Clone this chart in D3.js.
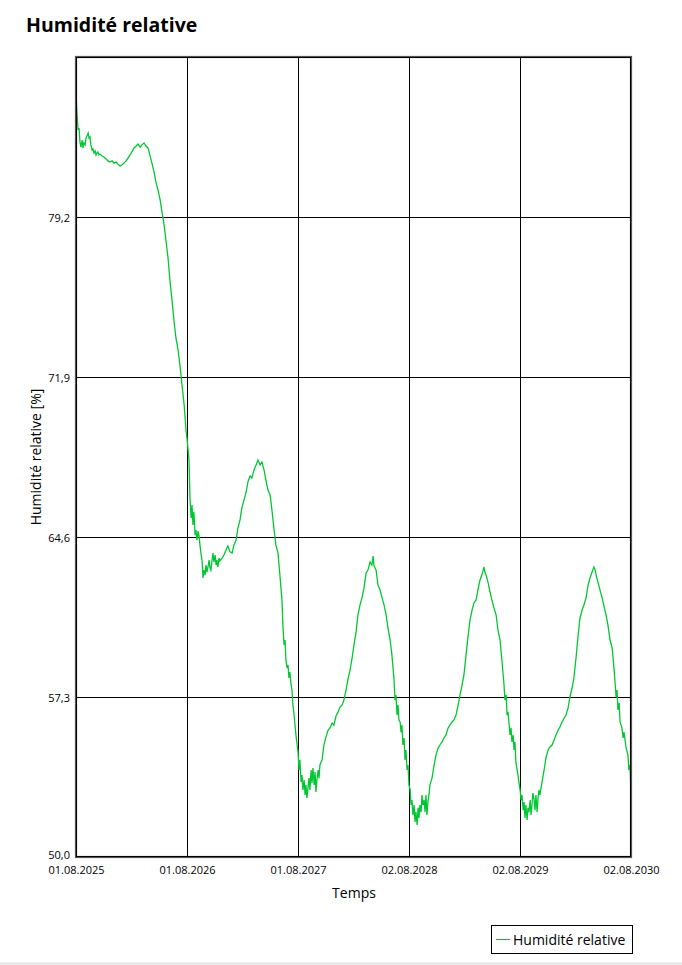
<!DOCTYPE html>
<html>
<head>
<meta charset="utf-8">
<script src="https://cdn.jsdelivr.net/npm/d3@7"></script>
<style>
  html, body { margin: 0; padding: 0; background: #fff; }
  svg { display: block; }
  text { font-family: "Open Sans", "Noto Sans", sans-serif; fill: #000; }
</style>
</head>
<body>
<svg id="chart" width="682" height="965"></svg>
<script>
// ---- data ----
const title = "Humidité relative";
const yTitle = "Humidité relative [%]";
const xTitle = "Temps";
const seriesName = "Humidité relative";

// days since 01.08.2025
const days = [0,3,7,10,13,16,20,23,26,30,33,36,40,43,46,49,53,56,59,63,66,69,72,76,79,86,92,99,105,112,119,125,132,138,145,151,158,165,171,178,184,191,198,204,211,217,224,230,237,244,250,257,263,270,277,283,290,296,303,309,316,323,329,336,342,349,356,359,362,365,369,372,375,379,382,385,388,392,395,398,402,405,408,412,415,418,421,425,428,431,435,438,441,444,448,451,454,458,461,464,467,471,474,481,487,494,500,507,514,520,527,533,540,546,553,560,566,573,579,586,593,599,606,612,619,625,632,639,645,652,658,665,672,678,681,685,688,691,695,698,701,704,708,711,714,718,721,724,728,731,734,737,741,744,747,751,754,757,760,764,767,770,774,777,780,784,787,790,793,797,800,803,810,816,823,830,836,843,849,856,863,869,876,882,889,895,902,909,915,922,928,935,942,948,955,961,968,974,978,981,988,994,1001,1007,1014,1021,1027,1034,1040,1047,1050,1053,1057,1060,1063,1067,1070,1073,1076,1080,1083,1086,1090,1093,1096,1100,1103,1106,1109,1113,1116,1119,1123,1126,1129,1132,1136,1139,1142,1146,1149,1152,1155,1159,1162,1165,1172,1179,1185,1192,1198,1205,1211,1218,1225,1231,1238,1244,1251,1258,1264,1271,1277,1284,1290,1297,1304,1310,1317,1323,1330,1337,1343,1346,1350,1356,1363,1369,1376,1383,1389,1396,1402,1409,1412,1416,1419,1422,1425,1429,1432,1435,1439,1442,1445,1448,1452,1455,1458,1462,1465,1468,1472,1475,1478,1481,1485,1488,1491,1495,1498,1501,1504,1508,1511,1514,1518,1521,1524,1527,1534,1541,1547,1554,1560,1567,1574,1580,1587,1593,1600,1607,1613,1620,1626,1633,1639,1646,1653,1659,1666,1672,1679,1686,1692,1699,1705,1709,1712,1718,1725,1732,1738,1745,1751,1758,1765,1771,1778,1781,1784,1788,1791,1797,1801,1804,1811,1817,1820,1824,1827];

// relative humidity [%]
const humidity = [84.86,83.99,83.17,83.26,82.62,82.39,82.71,82.35,82.58,82.49,82.80,82.90,83.03,82.80,82.85,82.49,82.26,82.30,82.12,82.21,82.03,82.12,82.17,82.03,82.07,81.98,81.94,81.85,81.76,81.71,81.76,81.66,81.71,81.62,81.53,81.57,81.66,81.76,81.89,82.03,82.17,82.35,82.44,82.53,82.39,82.49,82.58,82.44,82.35,81.98,81.66,81.25,80.80,80.43,79.98,79.43,78.84,78.15,77.33,76.33,75.41,74.41,73.68,73.13,72.45,71.54,70.62,70.08,69.48,69.16,68.57,68.11,66.43,65.47,66.06,65.15,65.74,64.69,64.92,64.46,64.87,64.65,64.24,63.78,63.55,62.73,63.09,62.87,63.32,63.00,63.28,63.55,63.19,63.09,63.55,63.87,63.46,63.78,63.32,63.55,63.23,63.64,63.51,63.64,63.78,64.01,64.19,63.92,63.87,64.24,64.46,65.01,65.38,65.92,66.29,66.65,67.11,67.38,67.29,67.66,67.89,68.11,67.89,68.02,67.66,67.20,66.74,66.52,65.83,64.92,64.24,63.87,62.73,61.73,60.59,59.67,59.90,58.99,58.62,58.76,58.17,58.44,57.85,57.62,56.94,56.48,56.02,55.57,55.11,54.79,53.97,54.43,53.42,53.74,53.06,53.51,52.83,53.29,52.69,53.19,53.60,53.06,53.97,53.38,54.06,53.29,53.88,52.97,53.51,53.97,53.60,54.20,54.43,55.11,55.48,55.79,55.89,56.11,56.02,56.43,56.62,56.84,56.94,57.16,57.62,58.08,58.53,59.08,59.67,60.27,61.04,61.50,61.86,62.27,62.96,63.09,63.46,63.32,63.73,63.28,63.09,62.41,62.18,61.86,61.50,61.04,60.45,59.90,59.22,58.08,57.16,57.39,56.48,56.94,56.25,56.16,55.70,56.02,55.11,55.43,54.43,54.88,53.97,54.20,53.29,53.06,52.37,52.60,51.92,52.37,51.60,52.05,51.46,52.24,51.78,52.37,52.05,52.83,52.37,52.60,52.05,52.83,51.92,52.60,52.83,53.29,53.60,54.20,54.65,54.97,55.11,55.25,55.43,55.57,55.89,56.02,56.16,56.25,56.48,56.94,57.39,57.85,58.30,59.22,59.99,60.81,61.27,61.59,61.73,62.18,62.64,62.91,63.23,63.00,62.87,62.55,62.09,61.73,61.36,61.04,60.36,59.90,58.99,57.85,57.16,57.39,56.48,56.62,56.16,55.57,55.89,55.25,55.57,54.88,55.25,54.33,53.97,53.74,53.42,53.06,52.60,52.83,52.14,52.51,51.78,52.37,51.69,52.24,52.05,52.60,51.92,52.37,52.92,52.60,52.14,52.83,52.05,52.69,53.06,52.83,53.42,53.97,54.52,54.88,55.02,55.11,55.34,55.57,55.79,55.93,56.16,56.34,56.48,56.80,57.30,57.71,58.17,59.08,60.13,60.90,61.27,61.50,61.82,62.41,62.73,63.00,63.23,63.09,62.87,62.55,62.18,61.82,61.45,61.04,60.59,59.90,59.54,58.62,57.30,57.62,56.71,57.03,56.16,55.89,55.43,55.70,54.97,54.65,53.97,54.20,52.83];

const xTickDays = [0, 365.4, 730.8, 1096.2, 1461.6, 1827];
const xTickLabels = ["01.08.2025", "01.08.2026", "01.08.2027", "02.08.2028", "02.08.2029", "02.08.2030"];
const yTicks = [50.0, 57.3, 64.6, 71.9, 79.2];
const yDomain = [50.0, 86.5];
const xDomain = [0, 1827];

// ---- layout ----
const svg = d3.select("#chart");
const pLeft = 76, pTop = 57, pRight = 631, pBottom = 857;

const x = d3.scaleLinear().domain(xDomain).range([pLeft, pRight]);
const y = d3.scaleLinear().domain(yDomain).range([pBottom, pTop]);
const fmt = v => d3.format(".1f")(v).replace(".", ",");

// page bottom edge
svg.append("line").attr("x1", 0).attr("x2", 682).attr("y1", 963.5).attr("y2", 963.5)
  .attr("stroke", "#e6e6e6").attr("stroke-width", 2);

// title
svg.append("text").attr("x", 26).attr("y", 32)
  .attr("font-size", 19.5).attr("font-weight", 700).text(title);

// grid lines
svg.append("g").selectAll("line").data(yTicks.slice(1)).join("line")
  .attr("x1", pLeft).attr("x2", pRight)
  .attr("y1", d => Math.round(y(d)) + 0.5).attr("y2", d => Math.round(y(d)) + 0.5)
  .attr("stroke", "#000").attr("stroke-width", 1);
svg.append("g").selectAll("line").data(xTickDays.slice(1, -1)).join("line")
  .attr("x1", d => Math.round(x(d)) + 0.5).attr("x2", d => Math.round(x(d)) + 0.5)
  .attr("y1", pTop).attr("y2", pBottom)
  .attr("stroke", "#000").attr("stroke-width", 1);

// y axis labels
const yAxis = d3.axisLeft(y).tickValues(yTicks).tickFormat(fmt).tickSize(0).tickPadding(6);
const gy = svg.append("g").attr("transform", `translate(${pLeft},0)`).call(yAxis);
gy.select(".domain").remove();
gy.selectAll("text").attr("font-size", 11).attr("font-family", "'Open Sans', sans-serif")
  .attr("dy", (d, i) => i === 0 ? "0.15em" : "0.45em");

// x axis labels
const xAxis = d3.axisBottom(x).tickValues(xTickDays)
  .tickFormat((d, i) => xTickLabels[i]).tickSize(0).tickPadding(9);
const gx = svg.append("g").attr("transform", `translate(0,${pBottom})`).call(xAxis);
gx.select(".domain").remove();
gx.selectAll("text").attr("font-size", 11).attr("font-family", "'Open Sans', sans-serif");

// series line
const line = d3.line().x((d, i) => x(days[i])).y(d => y(d)).curve(d3.curveLinear);
svg.append("path").datum(humidity)
  .attr("d", line).attr("fill", "none")
  .attr("stroke", "#00c832").attr("stroke-width", 1.3);

// plot frame
svg.append("rect").attr("x", pLeft).attr("y", pTop)
  .attr("width", pRight - pLeft).attr("height", pBottom - pTop)
  .attr("fill", "none").attr("stroke", "#555").attr("stroke-width", 2.2);
svg.append("rect").attr("x", pLeft + 0.5).attr("y", pTop + 0.5)
  .attr("width", pRight - pLeft - 1).attr("height", pBottom - pTop - 1)
  .attr("fill", "none").attr("stroke", "#000").attr("stroke-width", 1);

// axis titles
svg.append("text").attr("transform", "translate(41,457) rotate(-90)")
  .attr("text-anchor", "middle").attr("font-size", 14).text(yTitle);
svg.append("text").attr("x", 354).attr("y", 898)
  .attr("text-anchor", "middle").attr("font-size", 14).text(xTitle);

// legend
const lg = svg.append("g");
lg.append("rect").attr("x", 491.5).attr("y", 925.5).attr("width", 141).attr("height", 28)
  .attr("fill", "#fff").attr("stroke", "#000").attr("stroke-width", 1);
lg.append("line").attr("x1", 496).attr("x2", 510).attr("y1", 939.5).attr("y2", 939.5)
  .attr("stroke", "#00c832").attr("stroke-width", 1.2);
lg.append("text").attr("x", 513).attr("y", 945).attr("font-size", 14).text(seriesName);
</script>
</body>
</html>
